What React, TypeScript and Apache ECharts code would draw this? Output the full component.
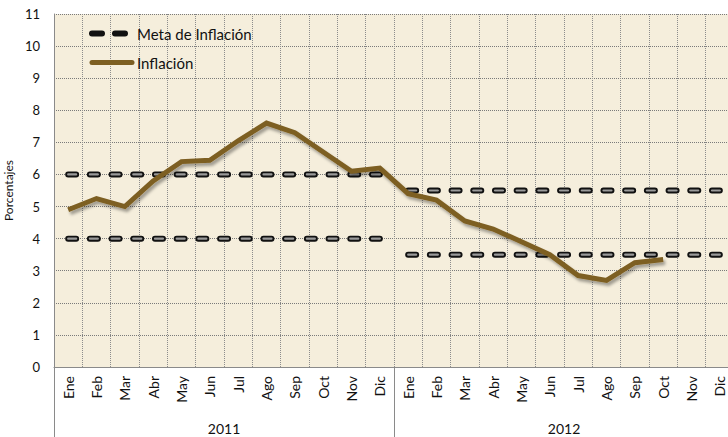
import React, { useEffect, useRef } from "react";
import * as echarts from "echarts";

const months = [
  "Ene", "Feb", "Mar", "Abr", "May", "Jun", "Jul", "Ago", "Sep", "Oct", "Nov", "Dic",
  "Ene", "Feb", "Mar", "Abr", "May", "Jun", "Jul", "Ago", "Sep", "Oct", "Nov", "Dic",
];
const years = ["2011", "2012"];
const yTicks = { min: 0, max: 11, interval: 1 };

const inflacion = [
  4.9, 5.25, 5.0, 5.8, 6.4, 6.44, 7.05, 7.6, 7.3, 6.7, 6.1, 6.2,
  5.4, 5.2, 4.55, 4.3, 3.9, 3.5, 2.85, 2.7, 3.25, 3.35, null, null,
];
const metaSup2011 = [6, 6, 6, 6, 6, 6, 6, 6, 6, 6, 6, 6, null, null, null, null, null, null, null, null, null, null, null, null];
const metaInf2011 = [4, 4, 4, 4, 4, 4, 4, 4, 4, 4, 4, 4, null, null, null, null, null, null, null, null, null, null, null, null];
const metaSup2012 = [null, null, null, null, null, null, null, null, null, null, null, null, 5.5, 5.5, 5.5, 5.5, 5.5, 5.5, 5.5, 5.5, 5.5, 5.5, 5.5, 5.5];
const metaInf2012 = [null, null, null, null, null, null, null, null, null, null, null, null, 3.5, 3.5, 3.5, 3.5, 3.5, 3.5, 3.5, 3.5, 3.5, 3.5, 3.5, 3.5];

const FONT = "Lato, 'Open Sans', sans-serif";
const DASH = [8, 13.7];
const BROWN = "#7D5F22";

export default function App() {
  const ref = useRef<HTMLDivElement>(null);
  useEffect(() => {
    if (!ref.current) return;
    const chart = echarts.init(ref.current, null, { renderer: "svg" });
    const metaSets = [metaSup2011, metaInf2011, metaSup2012, metaInf2012];
    const metaOuter = metaSets.map((d) => ({
      name: "Meta de Inflación",
      type: "line",
      data: d,
      symbol: "none",
      z: 3,
      itemStyle: { color: "#111111" },
      lineStyle: { color: "#111111", width: 6, type: DASH, cap: "round" },
    }));
    const metaInner = metaSets.map((d, i) => ({
      name: "metaHighlight" + i,
      type: "line",
      data: d,
      symbol: "none",
      z: 4,
      silent: true,
      itemStyle: { color: "#9a9a9a" },
      lineStyle: { color: "#9a9a9a", width: 2.2, type: DASH, cap: "round" },
    }));
    chart.setOption({
      animation: false,
      textStyle: { fontFamily: FONT },
      grid: {
        left: 54,
        top: 14,
        right: -6,
        bottom: 70,
        outerBoundsMode: "none",
        containLabel: false,
        show: true,
        backgroundColor: "#F5EEDC",
        borderWidth: 0,
      },
      legend: {
        data: [
          {
            name: "Meta de Inflación",
            lineStyle: { color: "#111111", width: 6, type: [10, 13], cap: "round" },
          },
          {
            name: "Inflación",
            lineStyle: { color: BROWN, width: 5, type: "solid", cap: "round" },
          },
        ],
        orient: "vertical",
        left: 84,
        top: 21,
        itemWidth: 40,
        itemHeight: 14,
        itemGap: 14,
        itemStyle: { opacity: 0 },
        textStyle: { fontFamily: FONT, fontSize: 15, color: "#111" },
      },
      xAxis: [
        {
          type: "category",
          data: months,
          boundaryGap: true,
          position: "bottom",
          axisLine: { show: true, lineStyle: { color: "#8a8a8a", width: 1 } },
          axisTick: { show: false },
          axisLabel: {
            interval: 0,
            rotate: 90,
            margin: 9,
            fontFamily: FONT,
            fontSize: 14,
            color: "#111",
          },
          splitLine: {
            show: true,
            interval: 0,
            lineStyle: { type: "dotted", color: "#8c8c8c", width: 1 },
          },
        },
        {
          type: "category",
          data: years,
          boundaryGap: true,
          position: "bottom",
          axisLine: { show: false },
          axisTick: {
            show: true,
            interval: 0,
            length: 72,
            lineStyle: { color: "#8a8a8a", width: 1 },
          },
          axisLabel: {
            interval: 0,
            margin: 54,
            fontFamily: FONT,
            fontSize: 14,
            color: "#111",
          },
          splitLine: { show: false },
        },
      ],
      yAxis: {
        type: "value",
        min: yTicks.min,
        max: yTicks.max,
        interval: yTicks.interval,
        name: "Porcentajes",
        nameLocation: "middle",
        nameGap: 35,
        nameRotate: 90,
        nameTextStyle: { fontFamily: FONT, fontSize: 12, color: "#111" },
        axisLine: { show: true, lineStyle: { color: "#8a8a8a", width: 1 } },
        axisTick: { show: false },
        axisLabel: { margin: 14, fontFamily: FONT, fontSize: 13, color: "#111" },
        splitLine: {
          show: true,
          lineStyle: { type: "dotted", color: "#7a7a7a", width: 1 },
        },
      },
      series: [
        ...metaOuter,
        ...metaInner,
        {
          name: "Inflación",
          type: "line",
          data: inflacion,
          symbol: "none",
          z: 5,
          lineStyle: {
            color: BROWN,
            width: 5,
            cap: "butt",
            join: "miter",
            shadowColor: "rgba(0,0,0,0.35)",
            shadowBlur: 3,
            shadowOffsetX: 2,
            shadowOffsetY: 3,
          },
          itemStyle: { color: BROWN },
        },
      ],
    });
    return () => chart.dispose();
  }, []);
  return (
    <div
      ref={ref}
      style={{ position: "fixed", left: 0, top: 0, width: 728, height: 437, background: "#fff" }}
    />
  );
}
